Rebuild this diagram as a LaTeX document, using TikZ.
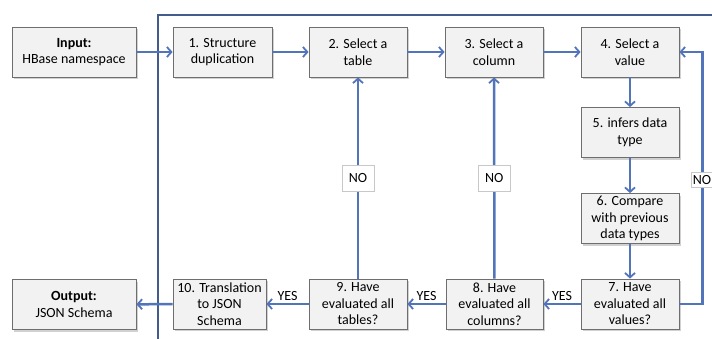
\documentclass[tikz,border=0pt]{standalone}
\usepackage{fontspec}
\setmainfont{Carlito}
\usetikzlibrary{arrows.meta,shadows}
\definecolor{arrowblue}{RGB}{82,116,186}
\definecolor{framecol}{RGB}{68,92,140}
\definecolor{boxborder}{RGB}{110,110,110}
\definecolor{boxfill}{RGB}{242,242,242}
\definecolor{labborder}{RGB}{200,200,200}
\newcommand{\boxfont}{\fontsize{14}{16.5}\selectfont}
\begin{document}
\begin{tikzpicture}[x=1pt,y=-1pt,
  stepbox/.style={draw=boxborder, fill=boxfill, line width=0.8pt,
    minimum width=98pt, minimum height=50pt, align=center, inner sep=0pt,
    font=\boxfont,
    drop shadow={shadow xshift=2pt, shadow yshift=-2pt, fill=black, opacity=0.18}},
  arr/.style={draw=arrowblue, line width=2.5pt,
    -{Straight Barb[length=4.5pt,width=10pt,line width=1.8pt]}},
  nolab/.style={draw=labborder, fill=white, line width=0.6pt, font=\boxfont,
    inner xsep=7pt, minimum height=26pt, inner ysep=0pt},
  yeslab/.style={font=\boxfont, inner sep=0pt, above=2pt}]
\useasboundingbox (0,0) rectangle (712,338);
\fill[white] (0,0) rectangle (712,338);
% frame
\draw[framecol, line width=1.6pt] (158,340) -- (158,15) -- (714,15);
% boxes
\node[stepbox, minimum width=124pt] (in) at (74,52) {\textbf{Input:}\\HBase namespace};
\node[stepbox, minimum width=99pt] (b1) at (222.5,52) {1. Structure\\duplication};
\node[stepbox] (b2) at (358,52) {2. Select a\\table};
\node[stepbox] (b3) at (494,52) {3. Select a\\column};
\node[stepbox] (b4) at (630,52) {4. Select a\\value};
\node[stepbox] (b5) at (630,132.5) {5. infers data\\type};
\node[stepbox] (b6) at (630,218.5) {6. Compare\\with previous\\data types};
\node[stepbox] (b7) at (630,304) {7. Have\\evaluated all\\values?};
\node[stepbox, minimum width=97pt] (b8) at (494.5,304) {8. Have\\evaluated all\\columns?};
\node[stepbox] (b9) at (358,304) {9. Have\\evaluated all\\tables?};
\node[stepbox, minimum width=93pt] (b10) at (219.5,304) {10. Translation\\to JSON\\Schema};
\node[stepbox, minimum width=124pt] (out) at (74,304.5) {\textbf{Output:}\\JSON Schema};
% arrows
\draw[arr] (in) -- (b1);
\draw[arr] (b1) -- (b2);
\draw[arr] (b2) -- (b3);
\draw[arr] (b3) -- (b4);
\draw[arr] (b4) -- (b5);
\draw[arr] (b5) -- (b6);
\draw[arr] (b6) -- (b7);
\draw[arr] (b7) -- node[yeslab] {YES} (b8);
\draw[arr] (b8) -- node[yeslab] {YES} (b9);
\draw[arr] (b9) -- node[yeslab] {YES} (b10);
\draw[arr] (b10) -- (out);
\draw[arr] (b9) -- node[nolab] {NO} (b2);
\draw[arr] (b8) -- node[nolab] {NO} (b3);
\draw[arr] (b7.east) -- ++(23,0) |- (b4.east);
\node[nolab, minimum height=15pt, inner xsep=2pt] (no3) at (702,179.5) {NO};
\end{tikzpicture}
\end{document}
